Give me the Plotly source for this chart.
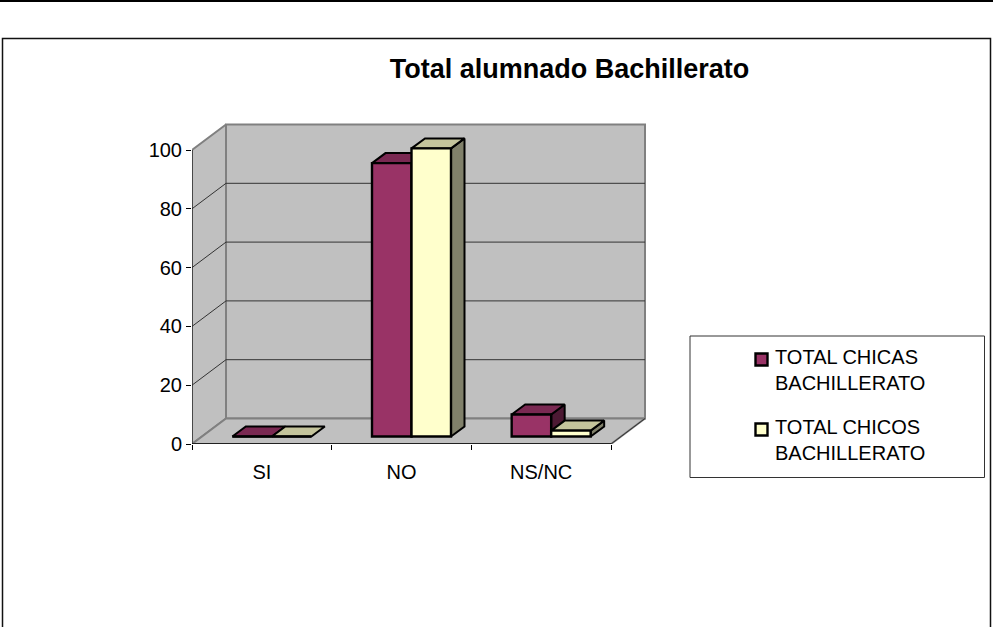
import plotly.graph_objects as go

categories = ["SI", "NO", "NS/NC"]
chicas = [0, 93, 7.5]
chicos = [0, 98, 2]
series_names = ["TOTAL CHICAS<br>BACHILLERATO", "TOTAL CHICOS<br>BACHILLERATO"]
y_ticks = [0, 20, 40, 60, 80, 100]
title_text = "Total alumnado Bachillerato"

W, H = 993, 627
FONT = "Liberation Sans"
# plot box in pixels (2 px spare on the far side so wall edges are not clipped)
PL, PR, PT, PB = 192, 646, 122, 444
PX_X = 139.67   # px per category
PX_Y = 2.94     # px per value unit
DX = 34 / PX_X  # wall depth in x units
DY = 25.5 / PX_Y  # wall depth in y units
N = len(categories)
XMAX = (PR - PL) / PX_X
YMAX = (PB - PT) / PX_Y
BW = 39.5 / PX_X
D0 = 0.294
BDX = 13.5 / PX_X
BDY = 10 / PX_Y
LIFT = D0 * DY
SHIFT = D0 * DX

WALL = "#C0C0C0"
EDGE = "#808080"
C_COLORS = dict(front="#993366", top="#7A2952", side="#4C1933")
B_COLORS = dict(front="#FFFFCC", top="#C4C49C", side="#80806A")

fig = go.Figure()


def poly(xs, ys, fill, line_color, lw):
    fig.add_trace(go.Scatter(x=xs + xs[:1], y=ys + ys[:1], mode="lines", fill="toself", fillcolor=fill,
                             line=dict(color=line_color, width=lw), showlegend=False, hoverinfo="skip"))


def seg(xs, ys, color, lw):
    fig.add_trace(go.Scatter(x=xs, y=ys, mode="lines", line=dict(color=color, width=lw),
                             showlegend=False, hoverinfo="skip"))


# walls and floor
poly([0, DX, DX, 0], [0, DY, DY + max(y_ticks), max(y_ticks)], WALL, EDGE, 2)
poly([DX, N + DX, N + DX, DX], [DY, DY, DY + max(y_ticks), DY + max(y_ticks)], WALL, EDGE, 2)
poly([0, N, N + DX, DX], [0, 0, DY, DY], WALL, EDGE, 2)
for t in y_ticks[1:-1]:
    seg([0, DX, N + DX], [t, t + DY, t + DY], "#333333", 1)
seg([N, N + DX], [0, DY], "#333333", 1)
seg([0, 0], [0, max(y_ticks)], "#222222", 1.2)
seg([0, N], [0, 0], "#000000", 1.5)

# bar side and top faces, derived from the series values
xc = [i + 0.5 + SHIFT for i in range(N)]
for vals, off, cols in ((chicas, -BW / 2, C_COLORS), (chicos, BW / 2, B_COLORS)):
    for c, v in zip(xc, vals):
        xl, xr = c + off - BW / 2, c + off + BW / 2
        yb, yt = LIFT, LIFT + v
        if v > 0:
            poly([xr, xr, xr + BDX, xr + BDX], [yb, yt, yt + BDY, yb + BDY], cols["side"], "#000000", 2)
        poly([xl, xr, xr + BDX, xl + BDX], [yt, yt, yt + BDY, yt + BDY], cols["top"], "#000000", 2)

# front faces: real bars on an overlay subplot so they sit above the faces
for vals, off, cols, name in ((chicas, -BW / 2, C_COLORS, series_names[0]),
                              (chicos, BW / 2, B_COLORS, series_names[1])):
    fig.add_trace(go.Bar(x=[c + off for c in xc], y=vals, base=[LIFT] * N, width=BW, name=name,
                         legendgroup=name, xaxis="x2", yaxis="y2",
                         marker=dict(color=cols["front"], line=dict(color="#000000", width=2.4)),
                         hoverinfo="skip"))

font = dict(family=FONT, size=20, color="#000000")
px = lambda v: v / W
py = lambda v: 1 - v / H
fig.update_layout(
    width=W, height=H, autosize=False, margin=dict(l=0, r=0, t=0, b=0, autoexpand=False),
    paper_bgcolor="#FFFFFF", plot_bgcolor="rgba(0,0,0,0)", barmode="overlay", font=font,
    title=dict(text=title_text, x=569.5 / W, xanchor="center", y=py(69), yanchor="middle",
               xref="paper", yref="paper", font=dict(family=FONT, size=27, weight=700, color="#000000")),
    xaxis=dict(domain=[px(PL), px(PR)], range=[0, XMAX], showgrid=False, zeroline=False, showline=False,
               tickmode="array", tickvals=[i + 0.5 for i in range(N)], ticktext=categories, ticks="",
               ticklabelstandoff=14, tickfont=font,
               minor=dict(tickmode="array", tickvals=list(range(N + 1)), ticks="outside", ticklen=5,
                          tickcolor="#000000", tickwidth=1, showgrid=False)),
    yaxis=dict(domain=[py(PB), py(PT)], range=[0, YMAX], showgrid=False, zeroline=False, showline=False,
               tickmode="array", tickvals=y_ticks, ticks="outside", ticklen=5, tickcolor="#000000",
               tickwidth=1, tickfont=font),
    xaxis2=dict(overlaying="x", matches="x", visible=False),
    yaxis2=dict(overlaying="y", matches="y", visible=False),
    legend=dict(x=px(735), xanchor="left", y=py(337), yanchor="top", bgcolor="rgba(0,0,0,0)", borderwidth=0,
                font=font, valign="top", tracegroupgap=15, traceorder="grouped",
                itemclick=False, itemdoubleclick=False),
    shapes=[
        dict(type="rect", xref="paper", yref="paper", x0=px(2.5), x1=px(990.5), y0=py(38.5), y1=py(700),
             line=dict(color="#111111", width=1.5), fillcolor="rgba(0,0,0,0)", layer="below"),
        dict(type="line", xref="paper", yref="paper", x0=0, x1=1, y0=py(1), y1=py(1),
             line=dict(color="#000000", width=2)),
        dict(type="rect", xref="paper", yref="paper", x0=px(690), x1=px(984.5), y0=py(336), y1=py(477.5),
             line=dict(color="#333333", width=1), fillcolor="#FFFFFF", layer="below"),
    ],
)
post = """
document.body.style.margin = '0';
document.querySelectorAll('.legendsymbols').forEach(function (g) {
  g.setAttribute('transform', 'translate(6.5,3)');
});
"""
fig.write_html("out.html", post_script=post, config={"displayModeBar": False})
